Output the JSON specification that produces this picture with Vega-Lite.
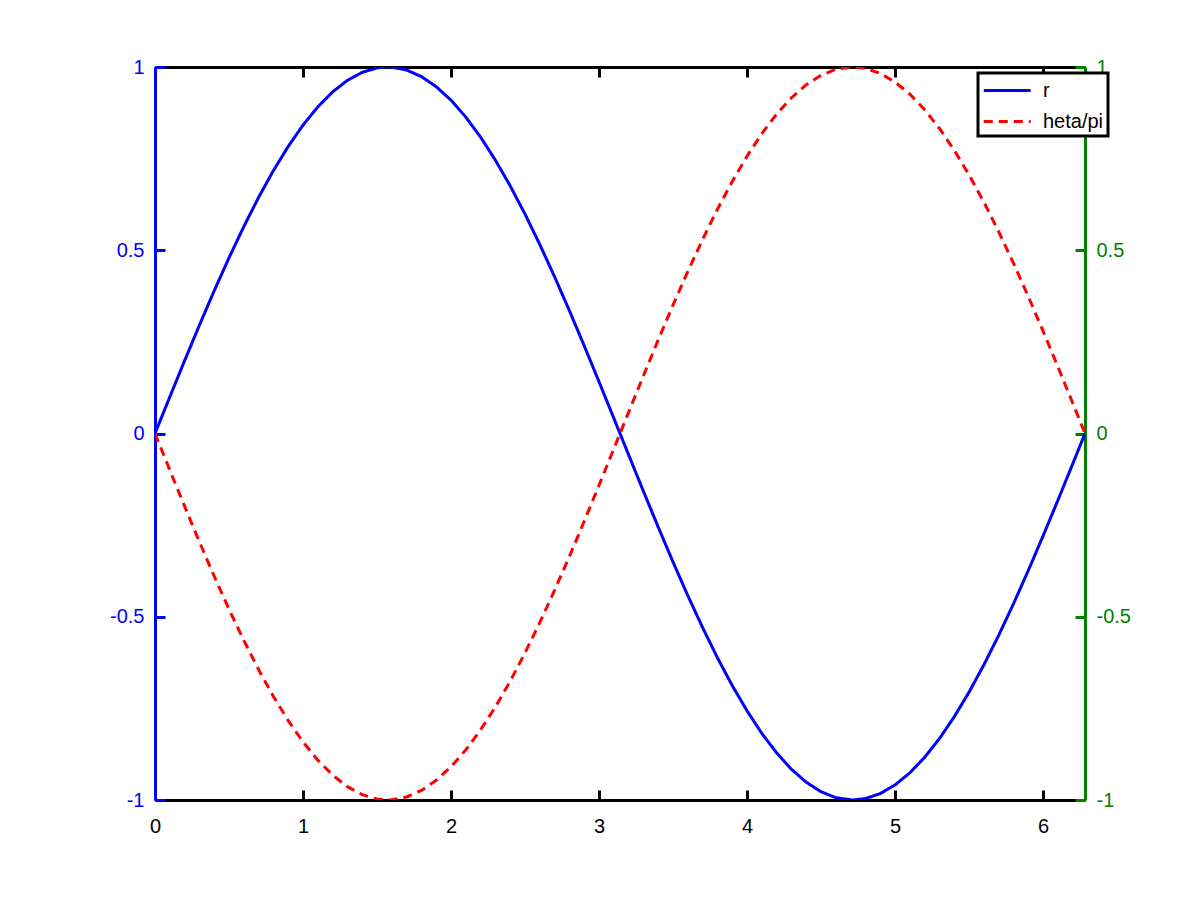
{
  "$schema": "https://vega.github.io/schema/vega-lite/v6.json",
  "width": 930,
  "height": 733,
  "autosize": "none",
  "padding": {"left": 155, "top": 67, "right": 115, "bottom": 102},
  "background": "white",
  "config": {
    "view": {"stroke": null},
    "font": "Liberation Sans",
    "axis": {"grid": false, "labelFont": "Liberation Sans", "labelFontSize": 20, "domainWidth": 3, "tickWidth": 3, "tickSize": -10, "labelFlush": false},
    "legend": {"strokeColor": "black", "strokeWidth": 3, "fillColor": "white", "padding": 4}
  },
  "data": {
    "values": [
      {"t": 0, "r": 0, "q": 0}, {"t": 0.1, "r": 0.0998, "q": -0.0998}, {"t": 0.2, "r": 0.1987, "q": -0.1987}, {"t": 0.3, "r": 0.2955, "q": -0.2955},
      {"t": 0.4, "r": 0.3894, "q": -0.3894}, {"t": 0.5, "r": 0.4794, "q": -0.4794}, {"t": 0.6, "r": 0.5646, "q": -0.5646}, {"t": 0.7, "r": 0.6442, "q": -0.6442},
      {"t": 0.8, "r": 0.7174, "q": -0.7174}, {"t": 0.9, "r": 0.7833, "q": -0.7833}, {"t": 1.0, "r": 0.8415, "q": -0.8415}, {"t": 1.1, "r": 0.8912, "q": -0.8912},
      {"t": 1.2, "r": 0.932, "q": -0.932}, {"t": 1.3, "r": 0.9636, "q": -0.9636}, {"t": 1.4, "r": 0.9854, "q": -0.9854}, {"t": 1.5, "r": 0.9975, "q": -0.9975},
      {"t": 1.5708, "r": 1, "q": -1}, {"t": 1.6, "r": 0.9996, "q": -0.9996}, {"t": 1.7, "r": 0.9917, "q": -0.9917}, {"t": 1.8, "r": 0.9738, "q": -0.9738},
      {"t": 1.9, "r": 0.9463, "q": -0.9463}, {"t": 2.0, "r": 0.9093, "q": -0.9093}, {"t": 2.1, "r": 0.8632, "q": -0.8632}, {"t": 2.2, "r": 0.8085, "q": -0.8085},
      {"t": 2.3, "r": 0.7457, "q": -0.7457}, {"t": 2.4, "r": 0.6755, "q": -0.6755}, {"t": 2.5, "r": 0.5985, "q": -0.5985}, {"t": 2.6, "r": 0.5155, "q": -0.5155},
      {"t": 2.7, "r": 0.4274, "q": -0.4274}, {"t": 2.8, "r": 0.335, "q": -0.335}, {"t": 2.9, "r": 0.2392, "q": -0.2392}, {"t": 3.0, "r": 0.1411, "q": -0.1411},
      {"t": 3.1, "r": 0.0416, "q": -0.0416}, {"t": 3.1416, "r": 0, "q": 0}, {"t": 3.2, "r": -0.0584, "q": 0.0584}, {"t": 3.3, "r": -0.1577, "q": 0.1577},
      {"t": 3.4, "r": -0.2555, "q": 0.2555}, {"t": 3.5, "r": -0.3508, "q": 0.3508}, {"t": 3.6, "r": -0.4425, "q": 0.4425}, {"t": 3.7, "r": -0.5298, "q": 0.5298},
      {"t": 3.8, "r": -0.6119, "q": 0.6119}, {"t": 3.9, "r": -0.6878, "q": 0.6878}, {"t": 4.0, "r": -0.7568, "q": 0.7568}, {"t": 4.1, "r": -0.8183, "q": 0.8183},
      {"t": 4.2, "r": -0.8716, "q": 0.8716}, {"t": 4.3, "r": -0.9162, "q": 0.9162}, {"t": 4.4, "r": -0.9516, "q": 0.9516}, {"t": 4.5, "r": -0.9775, "q": 0.9775},
      {"t": 4.6, "r": -0.9937, "q": 0.9937}, {"t": 4.7124, "r": -1, "q": 1}, {"t": 4.8, "r": -0.9962, "q": 0.9962}, {"t": 4.9, "r": -0.9825, "q": 0.9825},
      {"t": 5.0, "r": -0.9589, "q": 0.9589}, {"t": 5.1, "r": -0.9258, "q": 0.9258}, {"t": 5.2, "r": -0.8835, "q": 0.8835}, {"t": 5.3, "r": -0.8323, "q": 0.8323},
      {"t": 5.4, "r": -0.7728, "q": 0.7728}, {"t": 5.5, "r": -0.7055, "q": 0.7055}, {"t": 5.6, "r": -0.6313, "q": 0.6313}, {"t": 5.7, "r": -0.5507, "q": 0.5507},
      {"t": 5.8, "r": -0.4646, "q": 0.4646}, {"t": 5.9, "r": -0.3739, "q": 0.3739}, {"t": 6.0, "r": -0.2794, "q": 0.2794}, {"t": 6.1, "r": -0.1822, "q": 0.1822},
      {"t": 6.2, "r": -0.0831, "q": 0.0831}, {"t": 6.2832, "r": 0, "q": 0}
    ]
  },
  "layer": [
    {
      "mark": {"type": "line", "strokeWidth": 3, "clip": true},
      "encoding": {
        "x": {
          "field": "t", "type": "quantitative", "title": null,
          "scale": {"domain": [0, 6.2832], "nice": false, "zero": false},
          "axis": {"orient": "bottom", "values": [0, 1, 2, 3, 4, 5, 6], "domainColor": "black", "tickColor": "black", "labelColor": "black", "labelPadding": 26, "format": "d"}
        },
        "y": {
          "field": "r", "type": "quantitative", "title": null,
          "scale": {"domain": [-1, 1], "nice": false},
          "axis": {"orient": "left", "values": [-1, -0.5, 0, 0.5, 1], "labelExpr": "toString(datum.value)", "domainColor": "#0000ff", "tickColor": "#0000ff", "labelColor": "#0000ff", "labelPadding": 21}
        },
        "color": {
          "datum": "r", "type": "nominal",
          "scale": {"domain": ["r", "heta/pi"], "range": ["#0000ff", "#ff0000"]},
          "legend": {
            "title": null, "orient": "none", "legendX": 823, "legendY": 6,
            "symbolType": "M-1,0L3,0", "symbolSize": 550, "symbolStrokeWidth": 3,
            "labelFontSize": 20, "labelColor": "black", "labelFont": "Liberation Sans",
            "labelOffset": 34, "rowPadding": 7
          }
        },
        "strokeDash": {
          "datum": "r", "type": "nominal",
          "scale": {"domain": ["r", "heta/pi"], "range": [[1, 0], [9, 6]]}
        }
      }
    },
    {
      "mark": {"type": "line", "strokeWidth": 3, "clip": true},
      "encoding": {
        "x": {
          "field": "t", "type": "quantitative", "title": null,
          "scale": {"domain": [0, 6.2832], "nice": false, "zero": false},
          "axis": {"orient": "top", "values": [0, 1, 2, 3, 4, 5, 6], "labels": false, "domainColor": "black", "tickColor": "black"}
        },
        "y": {
          "field": "q", "type": "quantitative", "title": null,
          "scale": {"domain": [-1, 1], "nice": false},
          "axis": {"orient": "right", "values": [-1, -0.5, 0, 0.5, 1], "labelExpr": "toString(datum.value)", "domainColor": "#008000", "tickColor": "#008000", "labelColor": "#008000", "labelPadding": 21}
        },
        "color": {"datum": "heta/pi", "type": "nominal"},
        "strokeDash": {"datum": "heta/pi", "type": "nominal"}
      }
    }
  ],
  "resolve": {"axis": {"x": "independent", "y": "independent"}}
}
